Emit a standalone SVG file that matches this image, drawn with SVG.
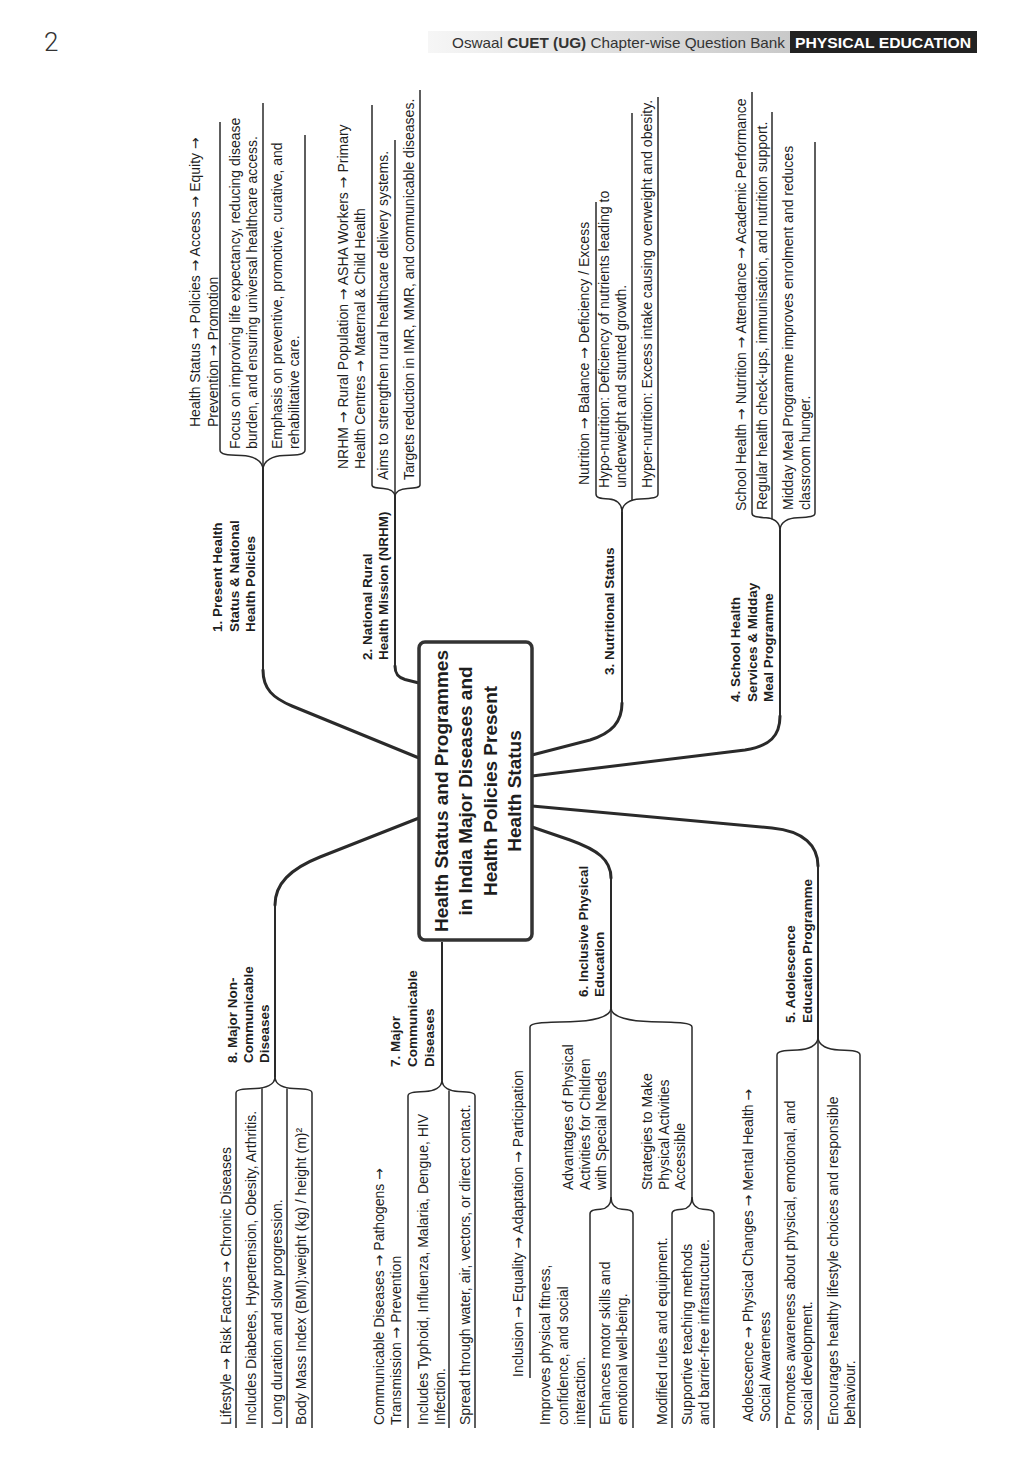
<svg xmlns="http://www.w3.org/2000/svg" width="1024" height="1474" viewBox="0 0 1024 1474">
<defs>
<linearGradient id="band" x1="0" y1="0" x2="1" y2="0">
<stop offset="0" stop-color="#f6f6f6"/>
<stop offset="1" stop-color="#c9c9c9"/>
</linearGradient>
<style>
.t{font-family:"Liberation Sans",Arial,sans-serif;font-size:14px;fill:#1e1e1e}
.ar{font-family:"DejaVu Sans",sans-serif;font-size:14px}
.b{font-family:"Liberation Sans",Arial,sans-serif;font-size:13.5px;font-weight:bold;fill:#1e1e1e}
.ti{font-family:"Liberation Sans",Arial,sans-serif;font-size:19px;font-weight:bold;fill:#1e1e1e;text-anchor:middle}
.hd{font-family:"Liberation Sans",Arial,sans-serif;font-size:15px;fill:#333}
.conn{fill:none;stroke:#2a2a2a;stroke-width:3;stroke-linecap:round;stroke-linejoin:round}
.stem{fill:none;stroke:#2a2a2a;stroke-width:2}
.br{fill:none;stroke:#2a2a2a;stroke-width:1.5}
</style>
</defs>
<rect width="1024" height="1474" fill="#ffffff"/>

<g id="page-header">
<text x="44" y="51" style="font-family:Roboto,'Liberation Sans',sans-serif;font-size:26px;font-weight:300;fill:#333">2</text>
<rect x="428" y="31" width="362" height="22" fill="url(#band)"/>
<text class="hd" x="452" y="48" textLength="333" lengthAdjust="spacingAndGlyphs">Oswaal <tspan font-weight="bold">CUET (UG)</tspan> Chapter-wise Question Bank</text>
<rect x="790" y="31" width="187" height="22" fill="#222"/>
<text x="883" y="48" text-anchor="middle" textLength="176" lengthAdjust="spacingAndGlyphs" style="font-family:'Liberation Sans',Arial,sans-serif;font-size:15px;font-weight:bold;fill:#fff">PHYSICAL EDUCATION</text>
</g>

<g id="connectors">
<!-- branch 1 -->
<path class="conn" d="M419,758 L292,706 C273,698 263,689 263,670"/>
<path class="stem" d="M263,672 L263,470"/>
<path class="br" d="M263,470 L263,103"/>
<path class="br" d="M263,470 C263,460 252.2,456 241.5,455.6 C226.5,455 220,454.4 220,450 L220,122"/>
<path class="br" d="M263,470 C263,460 273.5,456 284,455.6 C298.7,455 305,454.4 305,450 L305,135"/>
<!-- branch 2 -->
<path class="conn" d="M419,683 L405,679.5 C398,677.5 395,674 395,666"/>
<path class="stem" d="M395,668 L395,497"/>
<path class="br" d="M395,497 L395,140"/>
<path class="br" d="M395,497 C395,491 389.2,488.6 383.5,488.4 C375.5,488 372,487.6 372,485 L372,105"/>
<path class="br" d="M395,497 C395,491 401.2,488.6 407.5,488.4 C416.2,488 420,487.6 420,485 L420,90"/>
<!-- branch 3 -->
<path class="conn" d="M532,755 L590,740 C612,733 622,722 622,703"/>
<path class="stem" d="M622,705 L622,512"/>
<path class="br" d="M622,512 C622,503 615.5,499.4 609,499 C599.9,498.5 596,498 596,494 L596,202"/>
<path class="br" d="M622,512 C622,503 631,499.4 640,499 C652.6,498.5 658,498 658,494 L658,97"/>
<path class="br" d="M632,500.5 L632,113"/>
<!-- branch 4 -->
<path class="conn" d="M532,776 L745,750 C770,746 780,736 780,716"/>
<path class="stem" d="M780,718 L780,530"/>
<path class="br" d="M780,530 C780,521.5 773,518.1 766,517.8 C756.2,517.2 752,516.7 752,513 L752,92"/>
<path class="br" d="M780,530 C780,521.5 788.8,518.1 797.5,517.8 C809.8,517.2 815,516.7 815,513 L815,142"/>
<path class="br" d="M772,519.5 L772,112"/>
<!-- branch 5 -->
<path class="conn" d="M532,806 L772,828 C804,831 818,846 818,866"/>
<path class="stem" d="M818,864 L818,1037"/>
<path class="br" d="M818,1037 L818,1430"/>
<path class="br" d="M818,1037 C818,1046 807.8,1049.6 797.5,1050 C783.2,1050.5 777,1051 777,1055 L777,1428"/>
<path class="br" d="M818,1037 C818,1046 828.5,1049.6 839,1050 C853.7,1050.5 860,1051 860,1055 L860,1428"/>
<!-- branch 6 -->
<path class="conn" d="M532,827 L570,840 C598,850 611,860 611,878"/>
<path class="stem" d="M611,876 L611,1008"/>
<path class="br" d="M611,1008 L611,1197"/>
<path class="br" d="M611,1008 C611,1017.5 590.8,1021.3 570.5,1021.7 C542.2,1022.2 530,1022.8 530,1027 L530,1378"/>
<path class="br" d="M611,1008 C611,1017.5 631.2,1021.3 651.5,1021.7 C679.8,1022.2 692,1022.8 692,1027 L692,1197"/>
<path class="br" d="M611,1197 C611,1205.5 605.8,1208.9 600.5,1209.2 C593.2,1209.8 590,1210.3 590,1214 L590,1428"/>
<path class="br" d="M611,1197 C611,1205.5 616.5,1208.9 622,1209.2 C629.7,1209.8 633,1210.3 633,1214 L633,1428"/>
<path class="br" d="M692,1197 C692,1205.5 687,1208.9 682,1209.2 C675,1209.8 672,1210.3 672,1214 L672,1428"/>
<path class="br" d="M692,1197 C692,1205.5 697.5,1208.9 703,1209.2 C710.7,1209.8 714,1210.3 714,1214 L714,1428"/>
<!-- branch 7 -->
<path class="stem" d="M442,942 L442,1080"/>
<path class="br" d="M442,1080 C442,1088 433.5,1091.2 425,1091.5 C413.1,1092 408,1092.5 408,1096 L408,1428"/>
<path class="br" d="M442,1080 C442,1088 450.2,1091.2 458.5,1091.5 C470,1092 475,1092.5 475,1096 L475,1428"/>
<path class="br" d="M449,1090.5 L449,1428"/>
<!-- branch 8 -->
<path class="conn" d="M419,818 L320,857 C290,869 275,884 275,905"/>
<path class="stem" d="M275,903 L275,1077"/>
<path class="br" d="M275,1077 C275,1085 265.2,1088.2 255.5,1088.5 C241.8,1089 236,1089.5 236,1093 L236,1428"/>
<path class="br" d="M275,1077 C275,1085 284.2,1088.2 293.5,1088.5 C306.4,1089 312,1089.5 312,1093 L312,1428"/>
<path class="br" d="M262,1088.3 L262,1428"/>
<path class="br" d="M287,1088.4 L287,1428"/>
</g>

<g id="center">
<rect x="419" y="642" width="113" height="298" rx="6" fill="#fff" stroke="#333" stroke-width="3.5"/>
<text class="ti" transform="rotate(-90)" x="-791" y="448">Health Status and Programmes<tspan x="-791" dy="24">in India Major Diseases and</tspan><tspan x="-791" dy="24.5">Health Policies Present</tspan><tspan x="-791" dy="24">Health Status</tspan></text>
</g>

<g id="b1">
<text class="b" transform="rotate(-90)" x="-632" y="222">1. Present Health<tspan x="-632" dy="16.5">Status &amp; National</tspan><tspan x="-632" dy="16.5">Health Policies</tspan></text>
</g>
<g id="b1-c1"><text class="t" transform="rotate(-90)" x="-427" y="200">Health Status <tspan class="ar">→</tspan> Policies <tspan class="ar">→</tspan> Access <tspan class="ar">→</tspan> Equity <tspan class="ar">→</tspan><tspan x="-427" dy="17.5">Prevention </tspan><tspan class="ar">→</tspan> Promotion</text></g>
<g id="b1-c2"><text class="t" transform="rotate(-90)" x="-449" y="240">Focus on improving life expectancy, reducing disease<tspan x="-449" dy="17">burden, and ensuring universal healthcare access.</tspan></text></g>
<g id="b1-c3"><text class="t" transform="rotate(-90)" x="-449" y="282">Emphasis on preventive, promotive, curative, and<tspan x="-449" dy="17">rehabilitative care.</tspan></text></g>

<g id="b2">
<text class="b" transform="rotate(-90)" x="-660" y="372">2. National Rural<tspan x="-660" dy="16">Health Mission (NRHM)</tspan></text>
</g>
<g id="b2-c1"><text class="t" transform="rotate(-90)" x="-469" y="348">NRHM <tspan class="ar">→</tspan> Rural Population <tspan class="ar">→</tspan> ASHA Workers <tspan class="ar">→</tspan> Primary<tspan x="-469" dy="17">Health Centres </tspan><tspan class="ar">→</tspan> Maternal &amp; Child Health</text></g>
<g id="b2-c2"><text class="t" transform="rotate(-90)" x="-480" y="388">Aims to strengthen rural healthcare delivery systems.</text></g>
<g id="b2-c3"><text class="t" transform="rotate(-90)" x="-480" y="414">Targets reduction in IMR, MMR, and communicable diseases.</text></g>

<g id="b3">
<text class="b" transform="rotate(-90)" x="-675" y="614">3. Nutritional Status</text>
</g>
<g id="b3-c1"><text class="t" transform="rotate(-90)" x="-485" y="589">Nutrition <tspan class="ar">→</tspan> Balance <tspan class="ar">→</tspan> Deficiency / Excess</text></g>
<g id="b3-c2"><text class="t" transform="rotate(-90)" x="-488" y="609">Hypo-nutrition: Deficiency of nutrients leading to<tspan x="-488" dy="17">underweight and stunted growth.</tspan></text></g>
<g id="b3-c3"><text class="t" transform="rotate(-90)" x="-488" y="652">Hyper-nutrition: Excess intake causing overweight and obesity.</text></g>

<g id="b4">
<text class="b" transform="rotate(-90)" x="-702" y="740">4. School Health<tspan x="-702" dy="16.5">Services &amp; Midday</tspan><tspan x="-702" dy="16.5">Meal Programme</tspan></text>
</g>
<g id="b4-c1"><text class="t" transform="rotate(-90)" x="-511" y="746">School Health <tspan class="ar">→</tspan> Nutrition <tspan class="ar">→</tspan> Attendance <tspan class="ar">→</tspan> Academic Performance</text></g>
<g id="b4-c2"><text class="t" transform="rotate(-90)" x="-510" y="767">Regular health check-ups, immunisation, and nutrition support.</text></g>
<g id="b4-c3"><text class="t" transform="rotate(-90)" x="-510" y="793">Midday Meal Programme improves enrolment and reduces<tspan x="-510" dy="16.5">classroom hunger.</tspan></text></g>

<g id="b5">
<text class="b" transform="rotate(-90)" x="-1023" y="795">5. Adolescence<tspan x="-1023" dy="17">Education Programme</tspan></text>
</g>
<g id="b5-c1"><text class="t" transform="rotate(-90)" x="-1422" y="753">Adolescence <tspan class="ar">→</tspan> Physical Changes <tspan class="ar">→</tspan> Mental Health <tspan class="ar">→</tspan><tspan x="-1422" dy="17">Social Awareness</tspan></text></g>
<g id="b5-c2"><text class="t" transform="rotate(-90)" x="-1425" y="795">Promotes awareness about physical, emotional, and<tspan x="-1425" dy="17">social development.</tspan></text></g>
<g id="b5-c3"><text class="t" transform="rotate(-90)" x="-1425" y="838">Encourages healthy lifestyle choices and responsible<tspan x="-1425" dy="17">behaviour.</tspan></text></g>

<g id="b6">
<text class="b" transform="rotate(-90)" x="-997" y="588">6. Inclusive Physical<tspan x="-997" dy="15.5">Education</tspan></text>
</g>
<g id="b6-c1"><text class="t" transform="rotate(-90)" x="-1377" y="523">Inclusion <tspan class="ar">→</tspan> Equality <tspan class="ar">→</tspan> Adaptation <tspan class="ar">→</tspan> Participation</text></g>
<g id="b6-a"><text class="t" transform="rotate(-90)" x="-1190" y="573">Advantages of Physical<tspan x="-1190" dy="16.5">Activities for Children</tspan><tspan x="-1190" dy="16.5">with Special Needs</tspan></text></g>
<g id="b6-b"><text class="t" transform="rotate(-90)" x="-1190" y="652">Strategies to Make<tspan x="-1190" dy="16.5">Physical Activities</tspan><tspan x="-1190" dy="16.5">Accessible</tspan></text></g>
<g id="b6-a1"><text class="t" transform="rotate(-90)" x="-1425" y="550">Improves physical fitness,<tspan x="-1425" dy="17.5">confidence, and social</tspan><tspan x="-1425" dy="17.5">interaction.</tspan></text></g>
<g id="b6-a2"><text class="t" transform="rotate(-90)" x="-1425" y="610">Enhances motor skills and<tspan x="-1425" dy="17">emotional well-being.</tspan></text></g>
<g id="b6-b1"><text class="t" transform="rotate(-90)" x="-1425" y="667">Modified rules and equipment.</text></g>
<g id="b6-b2"><text class="t" transform="rotate(-90)" x="-1425" y="692">Supportive teaching methods<tspan x="-1425" dy="17">and barrier-free infrastructure.</tspan></text></g>

<g id="b7">
<text class="b" transform="rotate(-90)" x="-1067" y="400">7. Major<tspan x="-1067" dy="17">Communicable</tspan><tspan x="-1067" dy="17">Diseases</tspan></text>
</g>
<g id="b7-c1"><text class="t" transform="rotate(-90)" x="-1425" y="384">Communicable Diseases <tspan class="ar">→</tspan> Pathogens <tspan class="ar">→</tspan><tspan x="-1425" dy="17">Transmission </tspan><tspan class="ar">→</tspan> Prevention</text></g>
<g id="b7-c2"><text class="t" transform="rotate(-90)" x="-1425" y="428">Includes Typhoid, Influenza, Malaria, Dengue, HIV<tspan x="-1425" dy="17">Infection.</tspan></text></g>
<g id="b7-c3"><text class="t" transform="rotate(-90)" x="-1425" y="470">Spread through water, air, vectors, or direct contact.</text></g>

<g id="b8">
<text class="b" transform="rotate(-90)" x="-1063" y="237">8. Major Non-<tspan x="-1063" dy="16">Communicable</tspan><tspan x="-1063" dy="16">Diseases</tspan></text>
</g>
<g id="b8-c1"><text class="t" transform="rotate(-90)" x="-1425" y="231">Lifestyle <tspan class="ar">→</tspan> Risk Factors <tspan class="ar">→</tspan> Chronic Diseases</text></g>
<g id="b8-c2"><text class="t" transform="rotate(-90)" x="-1425" y="256">Includes Diabetes, Hypertension, Obesity, Arthritis.</text></g>
<g id="b8-c3"><text class="t" transform="rotate(-90)" x="-1425" y="282">Long duration and slow progression.</text></g>
<g id="b8-c4"><text class="t" transform="rotate(-90)" x="-1425" y="306">Body Mass Index (BMI):weight (kg) / height (m)²</text></g>
</svg>
